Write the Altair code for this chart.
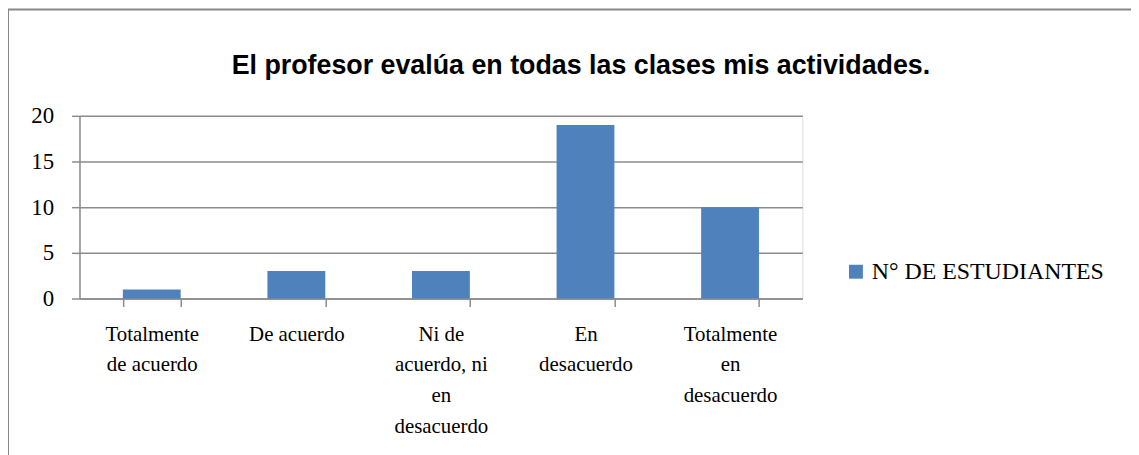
import altair as alt
import pandas as pd

categories = [
    "Totalmente\nde acuerdo",
    "De acuerdo",
    "Ni de\nacuerdo, ni\nen\ndesacuerdo",
    "En\ndesacuerdo",
    "Totalmente\nen\ndesacuerdo",
]
values = [1, 3, 3, 19, 10]
series_name = "N° DE ESTUDIANTES"
title_text = "El profesor evalúa en todas las clases mis actividades."
y_ticks = [0, 5, 10, 15, 20]

df = pd.DataFrame({"cat": categories, "val": values, "serie": [series_name] * len(values)})

GRAY = "#8c8c8c"
SERIF = "Liberation Serif"

bars = alt.Chart(df).mark_bar(color="#4F81BD").encode(
    x=alt.X(
        "cat:N",
        sort=categories,
        scale=alt.Scale(paddingInner=0.6, paddingOuter=0.3),
        axis=alt.Axis(
            title=None,
            labelAngle=0,
            labelExpr="split(datum.label, '\\n')",
            labelFont=SERIF,
            labelFontSize=21,
            labelColor="#000000",
            labelLineHeight=31,
            labelPadding=17,
            labelLimit=0,
            tickBand="extent",
            tickSize=8,
            tickColor=GRAY,
            tickWidth=1.5,
            domainColor=GRAY,
            domainWidth=1.5,
            grid=False,
        ),
    ),
    y=alt.Y(
        "val:Q",
        scale=alt.Scale(domain=[0, 20], nice=False),
        axis=alt.Axis(
            title=None,
            values=y_ticks,
            labelFont=SERIF,
            labelFontSize=23,
            labelColor="#000000",
            labelPadding=18,
            tickSize=8,
            tickColor=GRAY,
            tickWidth=1.5,
            domainColor=GRAY,
            domainWidth=1.5,
            gridColor=GRAY,
            gridWidth=1.5,
        ),
    ),
    color=alt.Color(
        "serie:N",
        scale=alt.Scale(range=["#4F81BD"]),
        legend=alt.Legend(
            title=None,
            orient="none",
            legendX=770,
            legendY=145,
            symbolType="square",
            symbolSize=196,
            symbolStrokeWidth=0,
            labelFont=SERIF,
            labelFontSize=24,
            labelColor="#000000",
            labelOffset=4,
            labelLimit=0,
        ),
    ),
)

border = alt.Chart(pd.DataFrame({"b": [0]})).mark_rect(
    fill=None, stroke="#888888", strokeWidth=2
).encode(
    x=alt.value(-72),
    x2=alt.value(1100),
    y=alt.value(-107),
    y2=alt.value(400),
)

title = alt.Chart(pd.DataFrame({"t": [title_text]})).mark_text(
    font="Liberation Sans",
    fontSize=27,
    fontWeight="bold",
    color="#000000",
    align="center",
    baseline="middle",
).encode(
    text="t:N",
    x=alt.value(505),
    y=alt.value(-50),
)

chart = alt.layer(border, bars, title).properties(
    width=728,
    height=184,
    autosize=alt.AutoSizeParams(type="none"),
    padding={"left": 72, "top": 107, "right": 331, "bottom": 156},
).configure_view(stroke=None).configure(background="white")

chart.save("out.html", embed_options={"renderer": "svg", "actions": False})
